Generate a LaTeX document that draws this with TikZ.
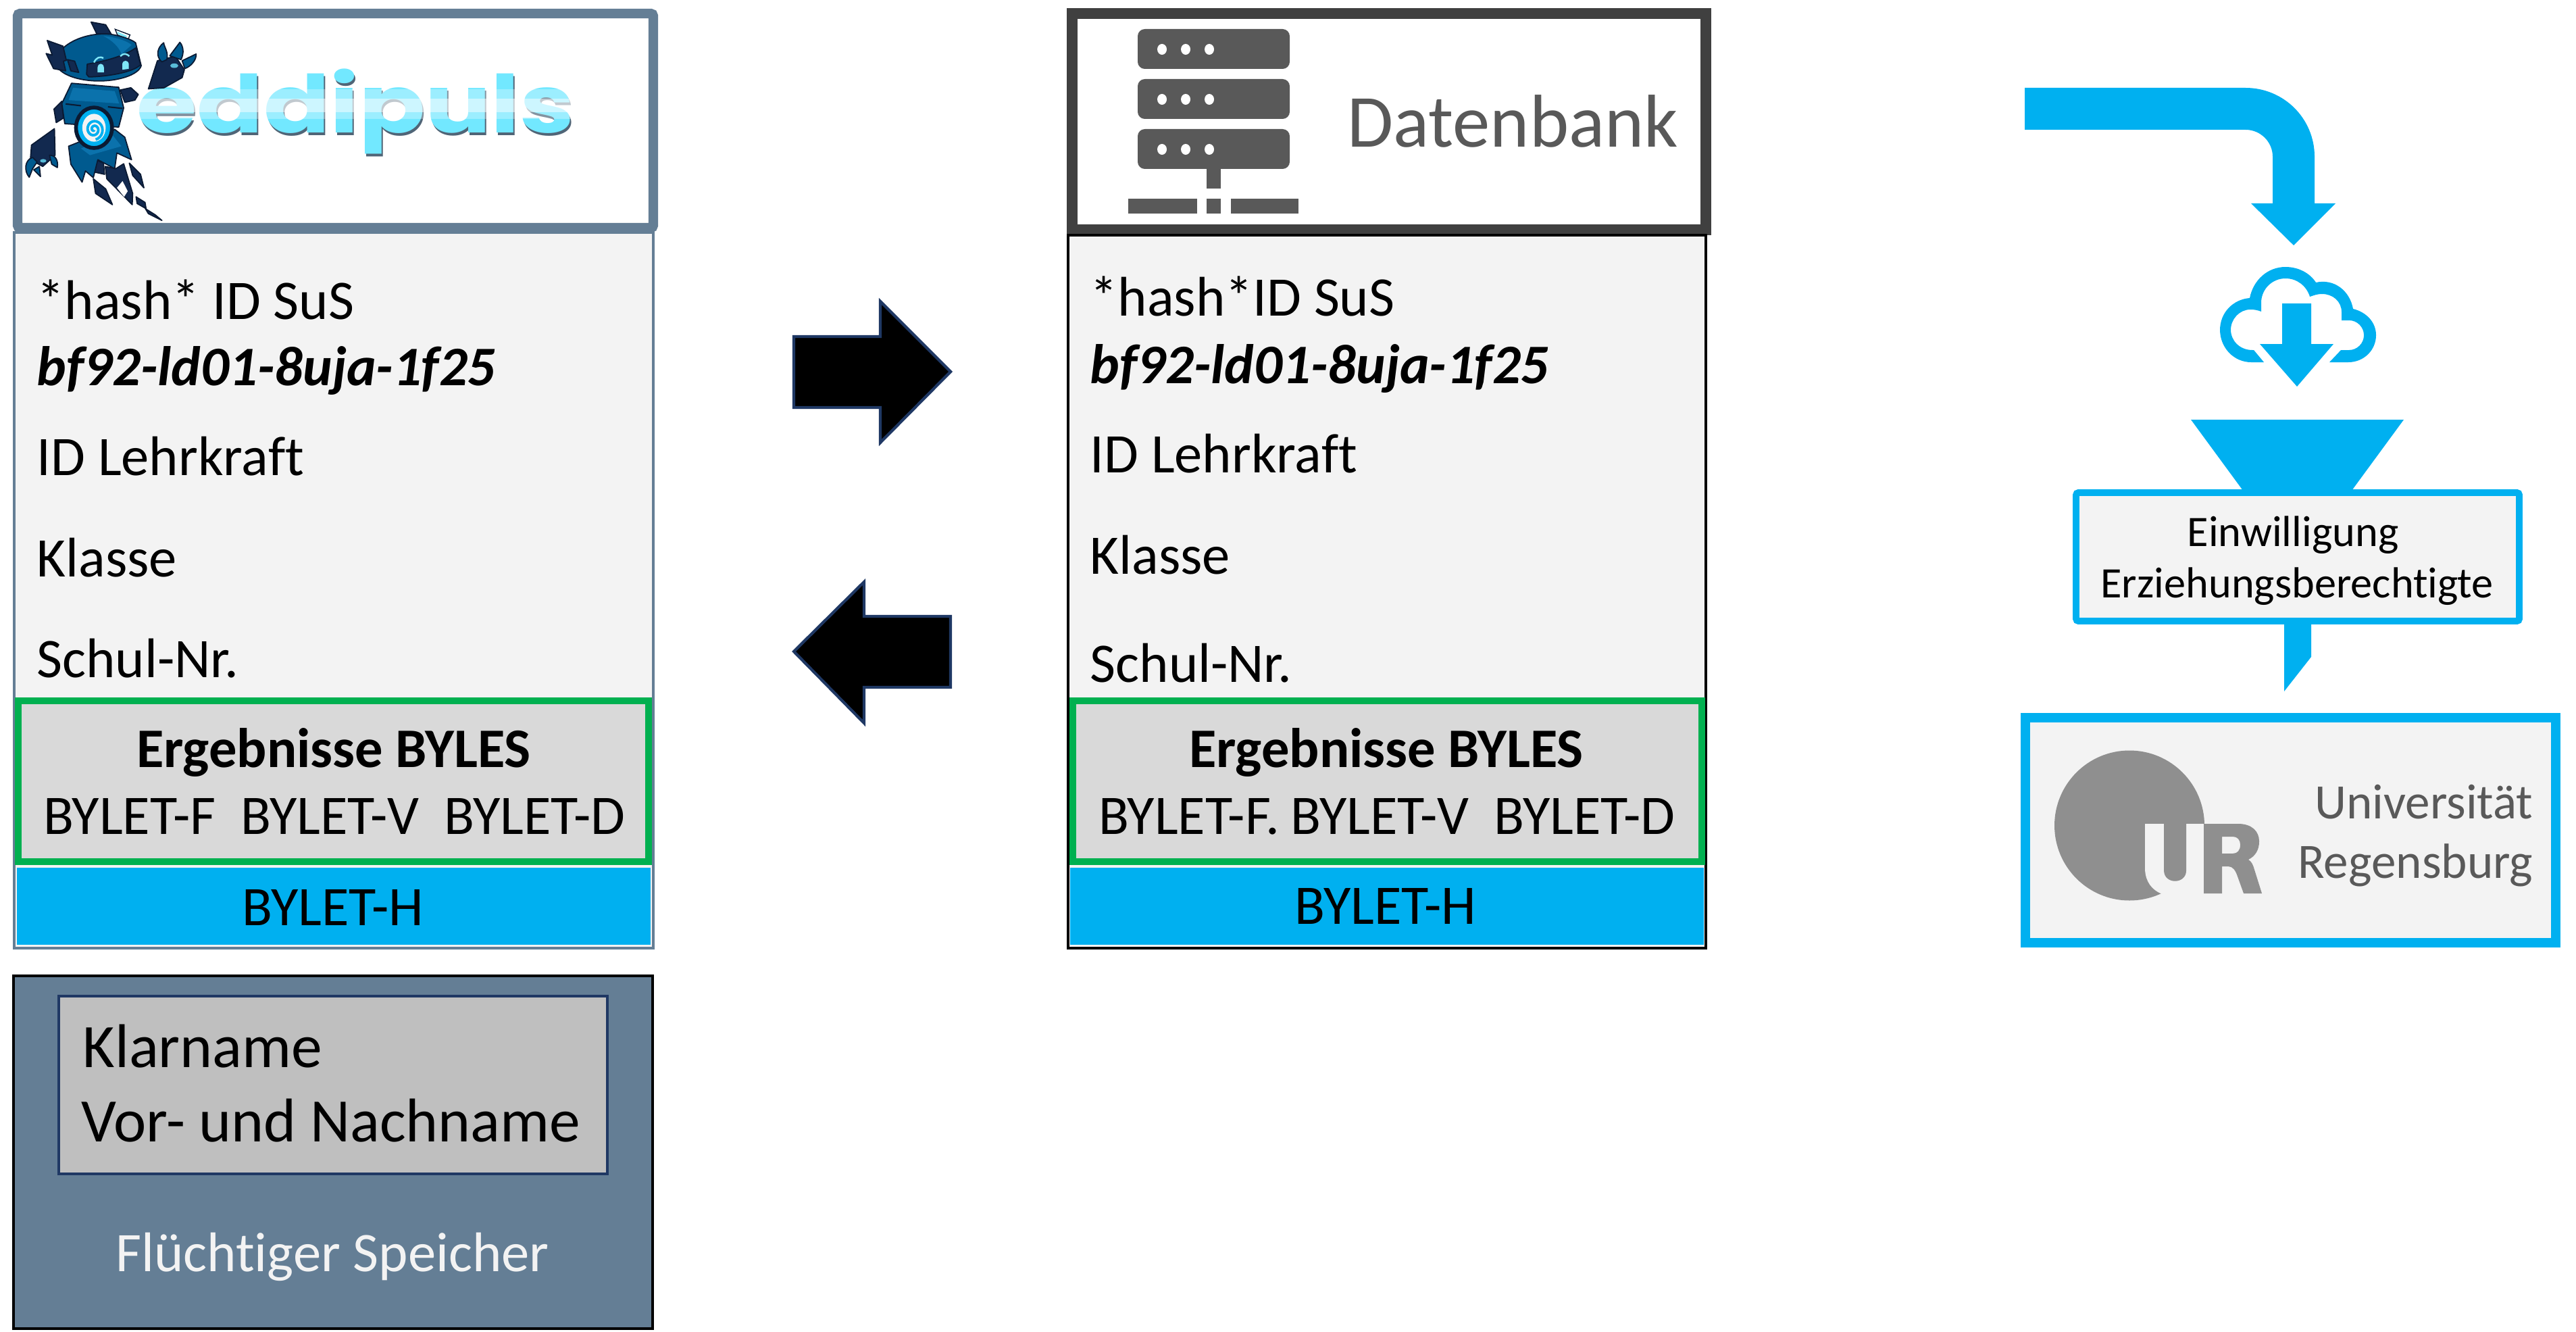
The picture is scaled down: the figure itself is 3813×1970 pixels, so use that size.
\documentclass[tikz,border=0pt]{standalone}
\usepackage{fontspec}
\setmainfont[Ligatures=NoCommon]{Carlito}
\newfontfamily\logofont{Poppins}
\definecolor{slateblue}{HTML}{647E95}
\definecolor{darkframe}{HTML}{404040}
\definecolor{icongray}{HTML}{595959}
\definecolor{panelgray}{HTML}{F3F3F3}
\definecolor{resultgray}{HTML}{D9D9D9}
\definecolor{namegray}{HTML}{BFBFBF}
\definecolor{logogray}{HTML}{8F8F8F}
\definecolor{resultgreen}{HTML}{00B050}
\definecolor{byletblue}{HTML}{00B0F0}
\definecolor{navyline}{HTML}{1F3864}
\definecolor{robotmid}{HTML}{005A8F}
\definecolor{robotlight}{HTML}{0B72AC}
\definecolor{robotdark}{HTML}{12294F}
\definecolor{robotline}{HTML}{0B1A33}
\definecolor{robotcyan}{HTML}{7FE6F7}
\definecolor{logocyan}{HTML}{72E8FF}
\tikzset{
  paneltext/.style={anchor=base west,inner sep=0pt,font=\fontsize{23.5}{28}\selectfont},
  nametext/.style={anchor=base west,inner sep=0pt,font=\fontsize{26}{30}\selectfont},
  codetext/.style={anchor=base west,inner sep=0pt,font=\fontsize{23.5}{28}\selectfont\bfseries\itshape},
  centertext/.style={anchor=base,inner sep=0pt,font=\fontsize{23.5}{28}\selectfont},
  boldtext/.style={anchor=base,inner sep=0pt,font=\fontsize{23.5}{28}\selectfont\bfseries},
  consenttext/.style={anchor=base,inner sep=0pt,font=\fontsize{18.3}{22}\selectfont},
  unitext/.style={anchor=base east,inner sep=0pt,text=icongray,font=\fontsize{20.8}{24}\selectfont},
  resultbox/.style={draw=resultgreen,fill=resultgray,line width=3pt},
  blockarrow/.style={draw=navyline,fill=black,line width=1.2pt,line join=miter},
  robotdarkpart/.style={fill=robotdark,draw=robotline,line width=.5pt,line join=round},
  robotbluepart/.style={fill=robotmid,draw=robotline,line width=.5pt,line join=round},
}
\begin{document}
\begin{tikzpicture}[x=0.01cm,y=-0.01cm]
  \useasboundingbox (0,0) rectangle (3813,1970);

  % Left column: logo frame
  \draw[slateblue,fill=white,line width=4pt,rounded corners=1pt] (26,20) rectangle (967,337);
  \node[inner sep=0pt,text=slateblue!80!black,anchor=base west] (logoshadow) at (204,201)
    {\logofont\bfseries\fontsize{33.6}{36}\selectfont\scalebox{1.225}[1]{eddipuls}};
  \node[inner sep=0pt,text=logocyan,anchor=base west] (logotext) at (202,197)
    {\logofont\bfseries\fontsize{33.6}{36}\selectfont\scalebox{1.225}[1]{eddipuls}};
  \fill[white,opacity=.65] (195,146) rectangle (860,166);
  \fill[white,opacity=.3] (195,132) rectangle (860,146);
  \fill[white,opacity=.3] (195,166) rectangle (860,176);

  % Robot, in the pixels of a crop three times as large
  \begin{scope}[shift={(20,20)},x=0.003333cm,y=-0.003333cm]
    % arms and trailing parts
    \filldraw[robotdarkpart] (600,335) -- (640,210) -- (720,190) -- (760,250) -- (750,285) -- (670,330) -- cycle;
    \filldraw[robotbluepart] (660,215) .. controls (630,190) and (640,150) .. (668,130) .. controls (670,150) and (690,170) .. (682,205) -- cycle;
    \filldraw[robotbluepart] (695,188) -- (740,128) .. controls (755,145) and (760,175) .. (745,205) -- cycle;
    \filldraw[robotbluepart] (750,210) -- (812,180) .. controls (815,205) and (790,235) .. (762,245) -- cycle;
    \fill[robotcyan!70!robotmid] (715,232) ellipse (18 and 10);
    \filldraw[robotdarkpart] (80,585) -- (182,512) -- (185,630) -- (130,680) -- (75,650) -- cycle;
    \filldraw[robotbluepart] (70,728) .. controls (45,700) and (50,650) .. (85,640) -- (105,660) -- (85,690) -- cycle;
    \filldraw[robotbluepart] (160,630) .. controls (185,630) and (200,650) .. (195,685) -- (170,670) -- cycle;
    \filldraw[robotbluepart] (90,695) -- (115,680) -- (120,725) -- cycle;
    \fill[robotcyan!70!robotmid] (132,655) ellipse (14 and 8);
    \filldraw[robotdarkpart] (355,735) -- (410,780) -- (440,850) -- (365,800) -- cycle;
    \filldraw[robotdarkpart] (515,665) -- (565,715) -- (580,775) -- (530,720) -- cycle;
    \filldraw[robotdarkpart] (545,815) -- (585,840) -- (590,870) -- (630,895) -- (660,920) -- (600,890) -- (585,865) -- (550,845) -- cycle;
    \filldraw[robotdarkpart] (408,680) -- (455,690) -- (490,668) -- (530,800) -- (528,850) -- (415,735) -- cycle;
    \fill[white] (460,775) -- (485,745) -- (508,790) -- (492,815) -- cycle;
    \filldraw[robotdarkpart] (365,650) -- (400,665) -- (405,715) -- (360,705) -- cycle;
    \filldraw[robotbluepart] (245,590) -- (295,570) -- (350,590) -- (450,515) -- (495,550) -- (525,650) -- (460,620) -- (450,690) -- (375,650) -- (355,730) -- (320,700) -- (305,750) -- (255,670) -- cycle;
    \fill[robotlight] (300,600) -- (440,540) -- (480,590) -- (340,630) -- cycle;
    % body
    \filldraw[robotdarkpart] (475,340) -- (522,330) -- (555,360) -- (540,385) -- (495,395) -- cycle;
    \filldraw[robotdarkpart] (215,390) -- (180,425) -- (190,485) -- (222,465) -- cycle;
    \filldraw[robotbluepart] (258,310) -- (468,328) -- (490,420) -- (468,505) -- (228,490) -- (215,400) -- cycle;
    \fill[robotlight] (265,330) -- (450,345) -- (470,400) -- (245,385) -- cycle;
    \draw[robotline,line width=.6pt] (232,402) -- (300,410) (420,415) -- (485,422);
    % orb
    \filldraw[fill=byletblue,draw=robotline,line width=1.6pt] (358,508) ellipse (80 and 90);
    \fill[panelgray] (358,508) ellipse (52 and 62);
    \draw[byletblue,line width=1.1pt] plot[domain=60:800,samples=50,smooth] ({358+\x/800*42*cos(\x)},{515+\x/800*46*sin(\x)});
    % head
    \filldraw[robotdarkpart] (345,38) -- (410,50) -- (435,92) -- (370,90) -- cycle;
    \filldraw[fill=white,draw=robotline,line width=.4pt] (452,70) -- (518,95) -- (510,115) -- (462,95) -- cycle;
    \fill[robotcyan] (460,80) -- (505,100) -- (500,108) -- (465,92) -- cycle;
    \filldraw[robotbluepart] (222,152) .. controls (270,110) and (350,85) .. (430,92) .. controls (480,100) and (525,115) .. (543,130) -- (568,232) .. controls (555,275) and (460,302) .. (370,300) .. controls (300,298) and (235,280) .. (205,250) -- cycle;
    \fill[robotlight] (400,100) .. controls (460,105) and (510,125) .. (525,140) -- (480,180) .. controls (470,150) and (440,120) .. (400,100) -- cycle;
    \filldraw[robotdarkpart] (328,225) .. controls (420,210) and (500,185) .. (545,152) -- (565,228) .. controls (530,262) and (420,280) .. (335,282) -- (325,270) -- cycle;
    \fill[robotcyan] (374,262) -- (374,240) .. controls (376,218) and (400,218) .. (402,240) -- (402,262) -- cycle;
    \fill[robotcyan] (484,250) -- (484,225) .. controls (486,205) and (510,205) .. (513,225) -- (513,246) -- cycle;
    \draw[robotcyan,line width=.7pt] (358,218) .. controls (368,195) and (385,190) .. (400,198);
    \draw[robotcyan,line width=.7pt] (475,190) .. controls (488,175) and (505,178) .. (515,190);
    \filldraw[robotdarkpart] (150,120) -- (220,145) -- (235,208) -- (222,212) -- (232,255) -- (178,245) -- (145,178) -- (172,185) -- cycle;
    \filldraw[robotdarkpart] (240,205) -- (272,212) -- (290,262) -- (255,255) -- cycle;
  \end{scope}

  % Left column: data panel
  \draw[slateblue,fill=panelgray,line width=1.1pt] (21,344) rectangle (967,1403);
  \node[paneltext] (hashleft) at (54,472) {*hash* ID SuS};
  \node[codetext] (codeleft) at (54,570) {bf92-ld01-8uja-1f25};
  \node[paneltext] (teacherleft) at (54,703) {ID Lehrkraft};
  \node[paneltext] (classleft) at (54,853) {Klasse};
  \node[paneltext] (schoolleft) at (54,1002) {Schul-Nr.};
  \draw[resultbox] (27,1037) rectangle (960,1275);
  \node[boldtext] (resultleft) at (494,1135) {Ergebnisse BYLES};
  \node[centertext] (testsleft) at (495,1234) {BYLET-F\hspace{.45em}BYLET-V\hspace{.45em}BYLET-D};
  \fill[byletblue] (25,1284) rectangle (963,1398);
  \node[centertext] (homeleft) at (493,1369) {BYLET-H};

  % Left column: volatile memory
  \draw[black,fill=slateblue,line width=1.2pt] (20,1444) rectangle (966,1966);
  \draw[navyline,fill=namegray,line width=1.2pt] (87,1474) rectangle (899,1737);
  \node[nametext] (nametitle) at (122,1579) {Klarname};
  \node[nametext] (namevalue) at (120,1689) {Vor- und Nachname};
  \node[centertext,text=panelgray] (memorytitle) at (492,1881) {Flüchtiger Speicher};

  % Exchange arrows
  \draw[blockarrow] (1175,498) -- (1303,498) -- (1303,446) -- (1407,550) -- (1303,655) -- (1303,603) -- (1175,603) -- cycle;
  \draw[blockarrow] (1407,912) -- (1279,912) -- (1279,861) -- (1175,964) -- (1279,1070) -- (1279,1017) -- (1407,1017) -- cycle;

  % Middle column: database header
  \draw[darkframe,fill=white,line width=4.5pt] (1587,20) rectangle (2525,340);
  \foreach \servery in {43,117,191} {
    \fill[icongray,rounded corners=3pt] (1684,\servery) rectangle (1909,\servery+59);
    \foreach \dotx in {1720,1755,1790}
      \fill[white] (\dotx,\servery+30) ellipse (7 and 8);
  }
  \fill[icongray] (1786,250) rectangle (1807,279);
  \fill[icongray] (1670,294) rectangle (1772,316);
  \fill[icongray] (1786,294) rectangle (1807,316);
  \fill[icongray] (1822,294) rectangle (1922,316);
  \node[inner sep=0pt,anchor=base west,text=icongray,font=\fontsize{31.5}{34}\selectfont] (dbtitle) at (1994,218) {Datenbank};

  % Middle column: data panel
  \draw[black,fill=panelgray,line width=.9pt] (1581,348) rectangle (2525,1403);
  \node[paneltext] (hashmid) at (1613,467) {*hash*ID SuS};
  \node[codetext] (codemid) at (1613,567) {bf92-ld01-8uja-1f25};
  \node[paneltext] (teachermid) at (1613,699) {ID Lehrkraft};
  \node[paneltext] (classmid) at (1613,849) {Klasse};
  \node[paneltext] (schoolmid) at (1613,1009) {Schul-Nr.};
  \draw[resultbox] (1588,1037) rectangle (2519,1275);
  \node[boldtext] (resultmid) at (2052,1135) {Ergebnisse BYLES};
  \node[centertext] (testsmid) at (2053,1234) {BYLET-F.\hspace{.2em}BYLET-V\hspace{.45em}BYLET-D};
  \fill[byletblue] (1584,1284) rectangle (2522,1398);
  \node[centertext] (homemid) at (2051,1367) {BYLET-H};

  % Right column: download arrow and cloud
  \fill[byletblue] (2997,130) -- (3324,130) .. controls (3380,130) and (3426,175) .. (3426,232) -- (3426,301) -- (3457,301) -- (3395,363) -- (3332,301) -- (3364,301) -- (3364,232) .. controls (3364,210) and (3346,192) .. (3324,192) -- (2997,192) -- cycle;
  \fill[byletblue] (3351,536) -- (3332,536) .. controls (3307,536) and (3286,515) .. (3286,488) .. controls (3286,463) and (3305,443) .. (3330,441) .. controls (3335,415) and (3356,395) .. (3383,395) .. controls (3402,395) and (3419,404) .. (3428,418) .. controls (3455,412) and (3478,430) .. (3483,457) .. controls (3503,462) and (3517,477) .. (3517,496) .. controls (3517,518) and (3499,536) .. (3476,536) -- (3448,536) -- (3465,518) -- (3477,518) .. controls (3489,518) and (3499,508) .. (3499,496) .. controls (3499,484) and (3489,474) .. (3477,474) -- (3466,474) -- (3466,462) .. controls (3466,446) and (3453,435) .. (3437,435) .. controls (3430,435) and (3425,437) .. (3419,439) .. controls (3414,423) and (3400,412) .. (3383,412) .. controls (3363,412) and (3347,428) .. (3347,448) -- (3347,461) .. controls (3342,459) and (3337,458) .. (3331,458) .. controls (3315,458) and (3302,472) .. (3302,488) .. controls (3302,504) and (3315,518) .. (3334,518) -- (3336,518) -- cycle;
  \fill[byletblue] (3378,449) -- (3421,449) -- (3421,509) -- (3454,509) -- (3400,572) -- (3345,509) -- (3378,509) -- cycle;

  % Right column: consent filter
  \fill[byletblue] (3243,621) -- (3558,621) -- (3478,730) -- (3323,730) -- cycle;
  \fill[byletblue] (3381,920) -- (3421,920) -- (3421,972) -- (3381,1023) -- cycle;
  \draw[byletblue,fill=panelgray,line width=2.8pt,rounded corners=1pt] (3073,729) rectangle (3729,919);
  \node[consenttext] (consentline) at (3394,808) {Einwilligung};
  \node[consenttext] (guardianline) at (3400,884) {Erziehungsberechtigte};

  % Right column: university logo
  \draw[byletblue,fill=panelgray,line width=4pt] (2998,1062) rectangle (3783,1395);
  \fill[logogray] (3152,1221.5) circle (111);
  \fill[panelgray] (3175,1219) -- (3175,1287) .. controls (3176,1305) and (3185,1316) .. (3198,1322) -- (3290,1345) -- (3290,1219) -- cycle;
  \fill[logogray] (3203,1210) -- (3236,1210) -- (3236,1288) .. controls (3236,1309) and (3203,1309) .. (3203,1288) -- cycle;
  \fill[logogray,even odd rule] (3262,1219) -- (3313,1219) .. controls (3333,1219) and (3344,1230) .. (3344,1245) .. controls (3344,1258) and (3338,1267) .. (3328,1272) .. controls (3333,1275) and (3335,1280) .. (3337,1287) -- (3348,1322) -- (3321,1322) -- (3312,1297) .. controls (3309,1288) and (3305,1282) .. (3298,1282) -- (3289,1282) -- (3289,1322) -- (3262,1322) -- cycle
    (3289,1238) -- (3305,1238) .. controls (3312,1238) and (3316,1243) .. (3316,1250) .. controls (3316,1258) and (3312,1263) .. (3305,1263) -- (3289,1263) -- cycle;
  \node[unitext] (uniline) at (3750,1211) {Universität};
  \node[unitext] (cityline) at (3750,1299) {Regensburg};
\end{tikzpicture}
\end{document}
